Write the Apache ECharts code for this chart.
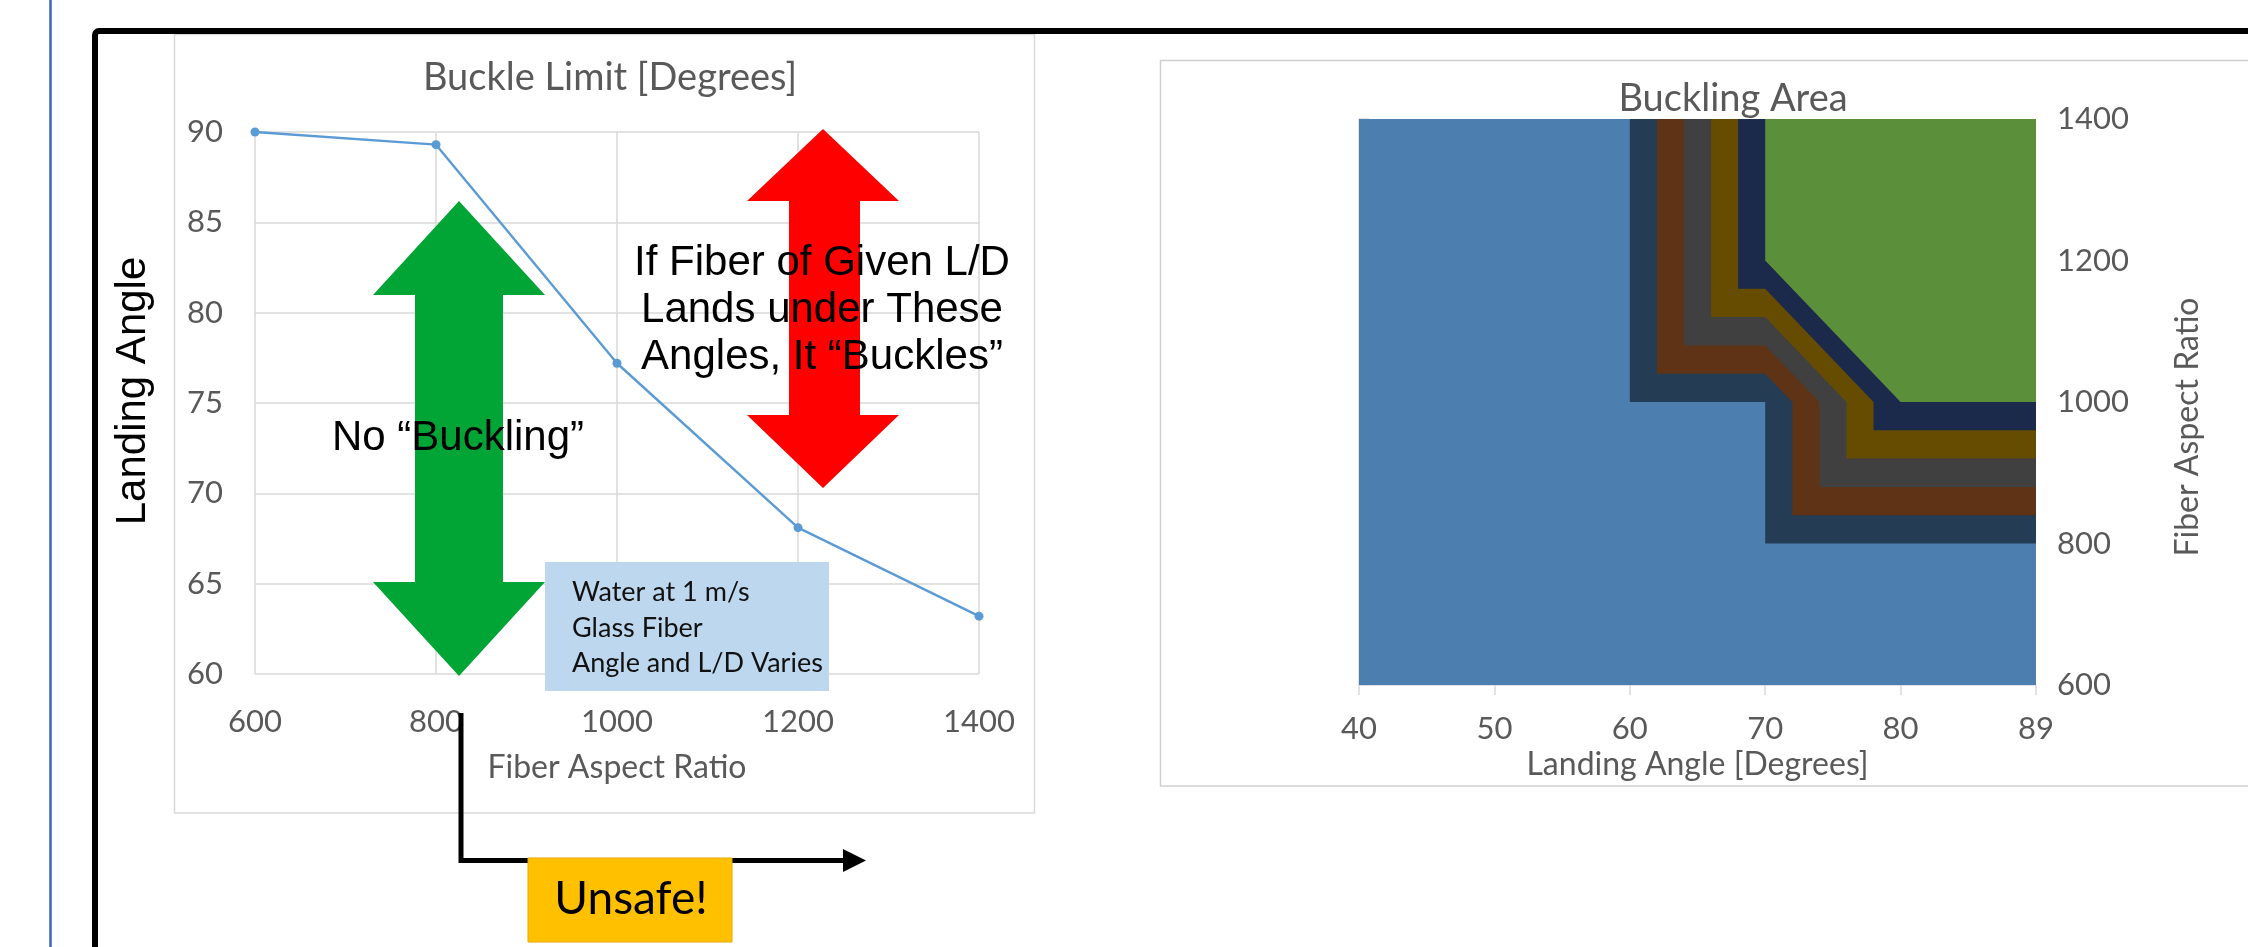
<!DOCTYPE html>
<html>
<head>
<meta charset="utf-8">
<script src="https://cdn.jsdelivr.net/npm/echarts@6/dist/echarts.min.js"></script>
<style>
  html, body { margin: 0; padding: 0; background: #ffffff; }
  #chart { width: 2248px; height: 947px; }
</style>
</head>
<body>
<div id="chart"></div>
<script>
// Left panel: landing angle above which a fiber buckles, per aspect ratio
const aspectRatios = [600, 800, 1000, 1200, 1400];
const buckleLimitDeg = [90.0, 89.3, 77.2, 68.1, 63.2];
const limitAngleTicks = [60, 65, 70, 75, 80, 85, 90];

// Right panel: buckling surface, tick labels of both axes
const angleTicks = [40, 50, 60, 70, 80, 89];
const ratioTicks = [600, 800, 1000, 1200, 1400];

// Contour boundaries of the surface, each running from the top edge to the
// right edge, as [landing angle, aspect ratio]; every band fills the area
// to the upper right of its boundary.
const contourEdges = [
  [[40, 1400], [40, 600], [89, 600]],
  [[60, 1400], [60, 1000], [70, 1000], [70, 800], [89, 800]],
  [[62, 1400], [62, 1040], [70, 1040], [72, 1000], [72, 840], [89, 840]],
  [[64, 1400], [64, 1080], [70, 1080], [74, 1000], [74, 880], [89, 880]],
  [[66, 1400], [66, 1120], [70, 1120], [76, 1000], [76, 920], [89, 920]],
  [[68, 1400], [68, 1160], [70, 1160], [78, 1000], [78, 960], [89, 960]],
  [[70, 1400], [70, 1200], [80, 1000], [89, 1000]]
];
const bandColors = ['#4C7EAF', '#243D55', '#5E3316', '#404040', '#654C00', '#1B2A4B', '#5B8F3A'];

// angle -> position on the evenly spaced angle axis
function anglePos(a) {
  for (let i = 0; i < angleTicks.length - 1; i++) {
    if (a <= angleTicks[i + 1]) {
      return i + (a - angleTicks[i]) / (angleTicks[i + 1] - angleTicks[i]);
    }
  }
  return angleTicks.length - 1;
}

const GRAY = '#595959';
const GRID_LINE = '#D9D9D9';
const UI_FONT = 'Lato';
const SLIDE_FONT = '"Liberation Sans", Arial, sans-serif';
const plain = v => String(v);

const chart = echarts.init(document.getElementById('chart'), null, { renderer: 'canvas' });

const option = {
  backgroundColor: '#ffffff',
  animation: false,
  title: [
    {
      text: 'Buckle Limit [Degrees]',
      left: 605, top: 54, textAlign: 'center',
      textStyle: { color: GRAY, fontFamily: UI_FONT, fontSize: 38, fontWeight: 'normal' }
    },
    {
      text: 'Buckling Area',
      left: 1728, top: 75, textAlign: 'center',
      textStyle: { color: GRAY, fontFamily: UI_FONT, fontSize: 38, fontWeight: 'normal' }
    }
  ],
  grid: [
    { left: 255, top: 132, width: 724, height: 542 },
    { left: 1359, top: 119, width: 677, height: 566 }
  ],
  xAxis: [
    {
      gridIndex: 0, type: 'value',
      min: aspectRatios[0], max: aspectRatios[aspectRatios.length - 1], interval: 200,
      axisLine: { show: false }, axisTick: { show: false },
      splitLine: { show: true, lineStyle: { color: GRID_LINE, width: 1.5 } },
      axisLabel: { color: GRAY, fontFamily: UI_FONT, fontSize: 31, margin: 32, formatter: plain },
      name: 'Fiber Aspect Ratio', nameLocation: 'middle', nameGap: 78,
      nameTextStyle: { color: GRAY, fontFamily: UI_FONT, fontSize: 32 }
    },
    {
      gridIndex: 1, type: 'value', min: 0, max: angleTicks.length - 1, interval: 1,
      axisLine: { show: true, lineStyle: { color: GRID_LINE, width: 1.5 } },
      axisTick: { show: true, length: 10, lineStyle: { color: GRID_LINE, width: 1.5 } },
      splitLine: { show: false },
      axisLabel: {
        color: GRAY, fontFamily: UI_FONT, fontSize: 31, margin: 28,
        formatter: v => String(angleTicks[v])
      },
      name: 'Landing Angle [Degrees]', nameLocation: 'middle', nameGap: 49,
      nameTextStyle: { color: GRAY, fontFamily: UI_FONT, fontSize: 32 }
    }
  ],
  yAxis: [
    {
      gridIndex: 0, type: 'value',
      min: limitAngleTicks[0], max: limitAngleTicks[limitAngleTicks.length - 1], interval: 5,
      axisLine: { show: false }, axisTick: { show: false },
      splitLine: { show: true, lineStyle: { color: GRID_LINE, width: 1.5 } },
      axisLabel: { color: GRAY, fontFamily: UI_FONT, fontSize: 31, margin: 32, formatter: plain },
      name: 'Landing Angle', nameLocation: 'middle', nameGap: 101, nameRotate: 90,
      nameTextStyle: { color: '#000000', fontFamily: SLIDE_FONT, fontSize: 42, padding: [0, 0, 0, 24] }
    },
    {
      gridIndex: 1, type: 'value', position: 'right',
      min: ratioTicks[0], max: ratioTicks[ratioTicks.length - 1], interval: 200,
      axisLine: { show: true, lineStyle: { color: GRID_LINE, width: 1.5 } },
      axisTick: { show: true, length: 10, lineStyle: { color: GRID_LINE, width: 1.5 } },
      splitLine: { show: false },
      axisLabel: { color: GRAY, fontFamily: UI_FONT, fontSize: 31, margin: 21, formatter: plain },
      name: 'Fiber Aspect Ratio', nameLocation: 'middle', nameGap: 136, nameRotate: 90,
      nameTextStyle: { color: GRAY, fontFamily: UI_FONT, fontSize: 32, padding: [0, 50, 0, 0] }
    }
  ],
  series: [
    {
      type: 'line', xAxisIndex: 0, yAxisIndex: 0,
      data: aspectRatios.map((r, i) => [r, buckleLimitDeg[i]]),
      symbol: 'circle', symbolSize: 9,
      lineStyle: { color: '#5B9BD5', width: 2.4 },
      itemStyle: { color: '#5B9BD5' },
      z: 3
    },
    {
      type: 'custom', xAxisIndex: 1, yAxisIndex: 1,
      data: contourEdges.map((_, i) => [i]),
      encode: { x: -1, y: -1 },
      renderItem: function (params, api) {
        const edge = contourEdges[params.dataIndex];
        const corner = [angleTicks[angleTicks.length - 1], ratioTicks[ratioTicks.length - 1]];
        const points = edge.concat([corner]).map(p => api.coord([anglePos(p[0]), p[1]]));
        return {
          type: 'polygon',
          shape: { points: points },
          style: { fill: bandColors[params.dataIndex], stroke: null }
        };
      },
      z: 2
    }
  ],
  graphic: [
    // slide guide line and outer frame
    { type: 'line', z: 1, shape: { x1: 50.5, y1: 0, x2: 50.5, y2: 947 },
      style: { stroke: '#3A67B8', lineWidth: 2.5 } },
    { type: 'rect', z: 1, shape: { x: 95, y: 31, width: 2400, height: 1400, r: 4 },
      style: { fill: null, stroke: '#000000', lineWidth: 6 } },
    // chart area borders
    { type: 'rect', z: -1, shape: { x: 174.5, y: 34.5, width: 860, height: 778.5 },
      style: { fill: '#ffffff', stroke: '#D9D9D9', lineWidth: 1.5 } },
    { type: 'rect', z: -1, shape: { x: 1160.5, y: 60.5, width: 1200, height: 725.5 },
      style: { fill: '#ffffff', stroke: '#CFCFCF', lineWidth: 1.5 } },
    // green double arrow
    { type: 'polygon', z: 10, shape: { points: [
        [459, 201], [545, 295], [503, 295], [503, 582], [545, 582],
        [459, 676], [373, 582], [415, 582], [415, 295], [373, 295]] },
      style: { fill: '#00A535' } },
    // red double arrow
    { type: 'polygon', z: 10, shape: { points: [
        [823, 129], [899, 201], [860, 201], [860, 415], [899, 415],
        [823, 488], [747, 415], [789, 415], [789, 201], [747, 201]] },
      style: { fill: '#FF0000' } },
    { type: 'text', z: 11, x: 822, y: 310,
      style: { text: 'If Fiber of Given L/D\nLands under These\nAngles, It \u201CBuckles\u201D',
        fill: '#000000', font: '42px ' + SLIDE_FONT, lineHeight: 47,
        align: 'center', verticalAlign: 'middle' } },
    { type: 'text', z: 11, x: 458, y: 438,
      style: { text: 'No \u201CBuckling\u201D', fill: '#000000', font: '42px ' + SLIDE_FONT,
        align: 'center', verticalAlign: 'middle' } },
    // test conditions box
    { type: 'rect', z: 10, shape: { x: 545, y: 562, width: 284, height: 129 },
      style: { fill: '#BDD7EE' } },
    { type: 'text', z: 11, x: 572, y: 628,
      style: { text: 'Water at 1 m/s\nGlass Fiber\nAngle and L/D Varies', fill: '#111111',
        font: '27px ' + UI_FONT, lineHeight: 35.5, align: 'left', verticalAlign: 'middle' } },
    // unsafe pointer
    { type: 'polyline', z: 10, shape: { points: [[461, 713], [461, 860.5], [846, 860.5]] },
      style: { stroke: '#000000', lineWidth: 5, fill: null } },
    { type: 'polygon', z: 10, shape: { points: [[843, 849], [866, 860.5], [843, 872]] },
      style: { fill: '#000000' } },
    { type: 'rect', z: 11, shape: { x: 528, y: 858, width: 204, height: 84 },
      style: { fill: '#FFC000', stroke: '#E3AB00', lineWidth: 1 } },
    { type: 'text', z: 12, x: 631, y: 899,
      style: { text: 'Unsafe!', fill: '#000000', font: '46px ' + UI_FONT,
        align: 'center', verticalAlign: 'middle' } }
  ]
};

chart.setOption(option);
</script>
</body>
</html>
